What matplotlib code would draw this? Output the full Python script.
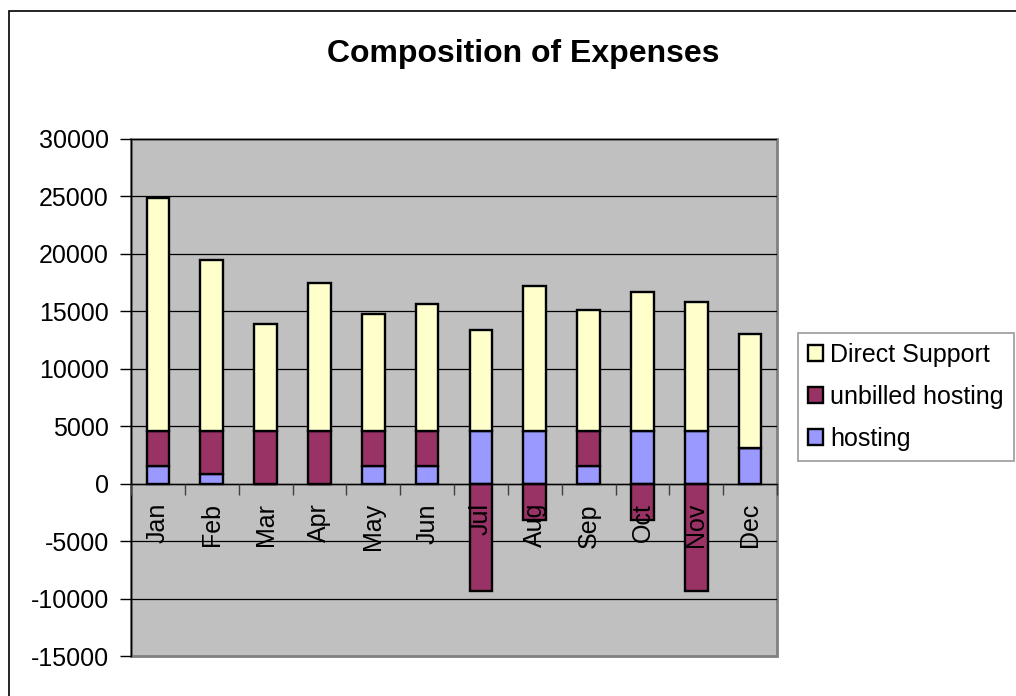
import numpy as np
import matplotlib
matplotlib.use('Agg')
import matplotlib.pyplot as plt
from matplotlib.patches import Rectangle
from matplotlib.ticker import MultipleLocator, FixedLocator

months = ['Jan', 'Feb', 'Mar', 'Apr', 'May', 'Jun',
          'Jul', 'Aug', 'Sep', 'Oct', 'Nov', 'Dec']
hosting = [1500, 800, 0, 0, 1500, 1500, 4600, 4600, 1500, 4600, 4600, 3100]
unbilled_hosting = [3100, 3800, 4600, 4600, 3100, 3100, -9300, -3200, 3100, -3200, -9300, 0]
direct_support = [20300, 14900, 9300, 12900, 10200, 11000, 8800, 12600, 10500, 12100, 11200, 9900]

series = [('hosting', hosting, '#9999FF'),
          ('unbilled hosting', unbilled_hosting, '#993366'),
          ('Direct Support', direct_support, '#FFFFCC')]

plt.rcParams['font.family'] = ['Liberation Sans', 'DejaVu Sans']
plt.rcParams['axes.unicode_minus'] = False

fig = plt.figure(figsize=(10.16, 6.96), dpi=100)
ax = fig.add_axes([131 / 1016, 1 - 656 / 696, 646 / 1016, 517 / 696])
ax.set_facecolor('#C0C0C0')

x = np.arange(len(months))
pos_bottom = np.zeros(len(months))
neg_bottom = np.zeros(len(months))
handles = []
for name, vals, col in series:
    vals = np.array(vals, dtype=float)
    bottom = np.where(vals >= 0, pos_bottom, neg_bottom)
    h = ax.bar(x, vals, width=0.42, bottom=bottom, color=col,
               edgecolor='black', linewidth=1.7, label=name, zorder=2)
    handles.append(h)
    pos_bottom += np.clip(vals, 0, None)
    neg_bottom += np.clip(vals, None, 0)

ax.set_xlim(-0.5, len(months) - 0.5)
ax.set_ylim(-15000, 30000)
ax.yaxis.set_major_locator(MultipleLocator(5000))
# gridlines drawn by hand so the tick labels can stay above the bars
for yv in np.arange(-10000, 30001, 5000):
    ax.axhline(yv, color='black', linewidth=0.9, zorder=1)

# category axis sits on the zero line like the Excel original
ax.spines['bottom'].set_position(('data', 0))
ax.spines['bottom'].set_color('black')
ax.spines['bottom'].set_linewidth(1.0)
ax.spines['left'].set_color('black')
ax.spines['left'].set_linewidth(1.0)
for s in ('top', 'right'):
    ax.spines[s].set_visible(False)
ax.add_patch(Rectangle((0, 0), 1, 1, transform=ax.transAxes, fill=False,
                       edgecolor='#808080', linewidth=2, zorder=0.5, clip_on=False))

ax.set_xticks(x)
ax.set_xticklabels(months, rotation=90, fontsize=18, va='top')
ax.xaxis.set_minor_locator(FixedLocator(np.arange(-0.5, len(months), 1.0)))
ax.tick_params(axis='x', which='major', length=0, pad=14)
ax.tick_params(axis='x', which='minor', length=8, width=1, direction='out', color='#404040')
ax.tick_params(axis='y', which='major', length=8, width=1, labelsize=18, pad=8)
ax.xaxis.set_zorder(3)
ax.yaxis.set_zorder(3)

fig.text(0.515, 1 - 62 / 696, 'Composition of Expenses', ha='center', va='baseline',
         fontsize=23, fontweight='bold')

leg = fig.legend(handles[::-1], [s[0] for s in series][::-1], loc='upper left',
                 bbox_to_anchor=(798 / 1016, 1 - 333 / 696), borderaxespad=0,
                 fontsize=18, frameon=True, fancybox=False, borderpad=0.4,
                 handlelength=0.6, handleheight=0.6, handletextpad=0.3,
                 labelspacing=0.72)
leg.get_frame().set_edgecolor('#808080')
leg.get_frame().set_linewidth(1.2)

# chart area border (cropped on right and bottom in the reference)
fig.patches.append(Rectangle((9 / 1016, -0.1), 1.2, 1 - 11 / 696 + 0.1,
                             transform=fig.transFigure, fill=False,
                             edgecolor='black', linewidth=1.2))

fig.savefig('out.png', dpi=100)
